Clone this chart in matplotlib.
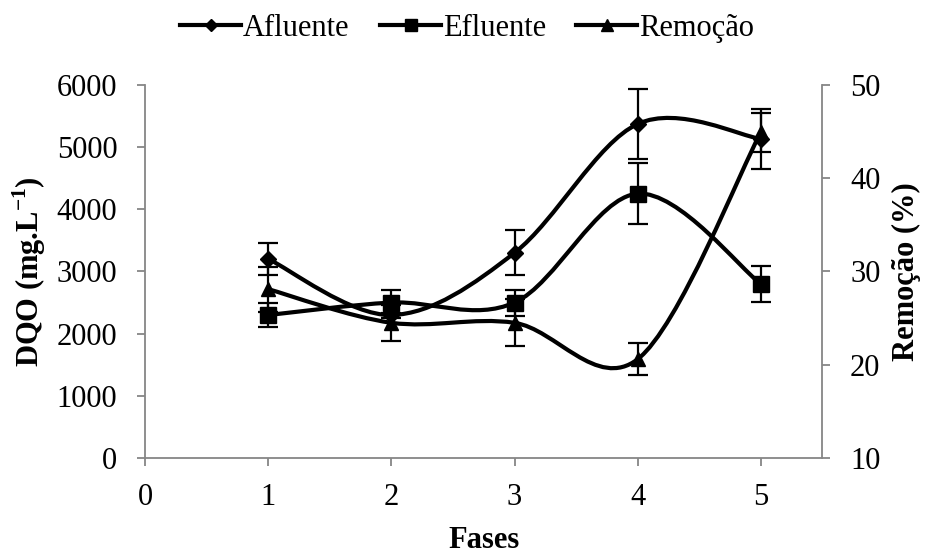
import numpy as np
import matplotlib
matplotlib.use("Agg")
import matplotlib.pyplot as plt
from matplotlib.path import Path
from matplotlib.patches import PathPatch
from matplotlib.lines import Line2D

plt.rcParams['font.family'] = ['Liberation Serif', 'DejaVu Serif']
plt.rcParams['mathtext.fontset'] = 'custom'
plt.rcParams['mathtext.rm'] = 'Liberation Serif'
plt.rcParams['mathtext.bf'] = 'Liberation Serif:bold'

fases = [1, 2, 3, 4, 5]
afluente = [3200, 2300, 3300, 5370, 5130]
afluente_err = [250, 40, 360, 560, 480]
efluente = [2300, 2500, 2500, 4250, 2800]
efluente_err = [200, 200, 210, 485, 290]
remocao = [28.1, 24.5, 24.5, 20.6, 44.9]
remocao_err = [2.4, 1.9, 2.5, 1.7, 2.1]

GREY = '#868686'
FS = 22


def smooth_path(x, y):
    # Catmull-Rom style smoothing expressed as cubic Bezier segments
    x = np.asarray(x, float)
    y = np.asarray(y, float)
    pts = np.column_stack([x, y])
    n = len(pts)
    verts = [pts[0]]
    codes = [Path.MOVETO]
    for i in range(n - 1):
        p0 = pts[i - 1] if i > 0 else pts[i]
        p1 = pts[i]
        p2 = pts[i + 1]
        p3 = pts[i + 2] if i + 2 < n else pts[i + 1]
        c1 = p1 + (p2 - p0) / 6.0
        c2 = p2 - (p3 - p1) / 6.0
        verts += [c1, c2, p2]
        codes += [Path.CURVE4] * 3
    return Path(verts, codes)


fig = plt.figure(figsize=(9.25, 5.54), dpi=100)
ax = fig.add_axes([0.157, 0.173, 0.732, 0.674])
ax2 = ax.twinx()

def style_axis(a):
    for s in a.spines.values():
        s.set_color(GREY)
        s.set_linewidth(1.3)
    a.spines['top'].set_visible(False)
    a.tick_params(colors='black', labelsize=FS, length=6, width=1.3,
                  color=GREY, direction='out')

style_axis(ax)
style_axis(ax2)
ax.spines['right'].set_visible(False)
ax2.spines['left'].set_visible(False)
ax2.spines['bottom'].set_visible(False)

ax.set_xlim(0, 5.5)
ax.set_ylim(0, 6000)
ax.set_xticks([0, 1, 2, 3, 4, 5])
ax.set_yticks(range(0, 6001, 1000))
ax2.set_ylim(10, 50)
ax2.set_yticks([10, 20, 30, 40, 50])
ax.tick_params(axis='x', pad=12)
ax.tick_params(axis='y', pad=14)
ax2.tick_params(axis='y', pad=14)

lw = 3.0
# smoothed curves
ax.add_patch(PathPatch(smooth_path(fases, afluente), fill=False, lw=lw,
                       edgecolor='black', zorder=3))
ax.add_patch(PathPatch(smooth_path(fases, efluente), fill=False, lw=lw,
                       edgecolor='black', zorder=3))
ax2.add_patch(PathPatch(smooth_path(fases, remocao), fill=False, lw=lw,
                        edgecolor='black', zorder=3))

ekw = dict(fmt='none', ecolor='black', elinewidth=1.6, capsize=7, capthick=1.6, zorder=4)
ax.errorbar(fases, afluente, yerr=afluente_err, **ekw)
ax.errorbar(fases, efluente, yerr=efluente_err, **ekw)
ax2.errorbar(fases, remocao, yerr=remocao_err, **ekw)

ax.plot(fases, afluente, ls='none', marker='D', ms=8, color='black', zorder=5)
ax.plot(fases, efluente, ls='none', marker='s', ms=11, color='black', zorder=5)
ax2.plot(fases, remocao, ls='none', marker='^', ms=10, color='black', zorder=5)

ax.set_xlabel('Fases', fontsize=FS, fontweight='bold', labelpad=10)
ax.set_ylabel(r'DQO (mg.L$^{\mathbf{-1}}$)', fontsize=FS, fontweight='bold', labelpad=6)
ax2.set_ylabel('Remoção (%)', fontsize=FS, fontweight='bold', rotation=90, labelpad=8)

handles = [
    Line2D([], [], color='black', lw=lw, marker='D', ms=6),
    Line2D([], [], color='black', lw=lw, marker='s', ms=8),
    Line2D([], [], color='black', lw=lw, marker='^', ms=8),
]
fig.legend(handles, ['Afluente', 'Efluente', 'Remoção'], loc='upper center',
           bbox_to_anchor=(0.505, 1.025), ncol=3, frameon=False, fontsize=FS,
           handlelength=2.0, handletextpad=0.05, columnspacing=1.0)

fig.savefig('out.png', dpi=100)
